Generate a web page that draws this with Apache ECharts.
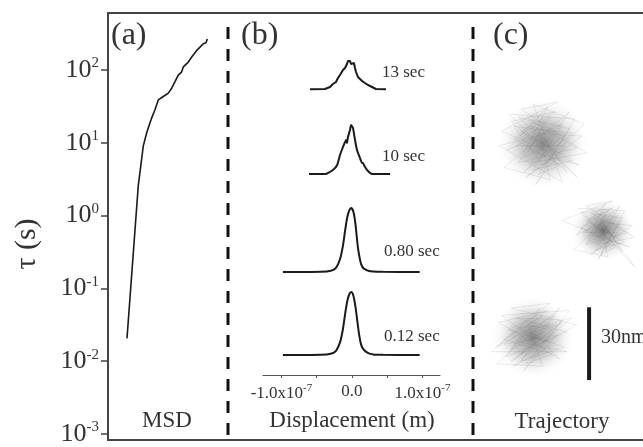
<!DOCTYPE html>
<html><head><meta charset="utf-8">
<script src="https://cdn.jsdelivr.net/npm/echarts@6/dist/echarts.min.js"></script>
<style>html,body{margin:0;padding:0;background:#fff}#c{width:643px;height:447px}</style>
</head><body><div id="c"></div>
<script>
// ---------- data ----------
const tauTicks = [0.001, 0.01, 0.1, 1, 10, 100];
// panel (a) MSD curve: index position, tau (s)
const msdX   = [19, 30.3, 32, 35.3, 38.7, 42, 43.7, 47, 50.3, 55.3, 60.3, 63.7, 67, 70.3, 73.7, 75.3, 80.3, 83.7, 86, 87, 88.7, 92, 95.3, 97, 98, 99.3];
const msdTau = [0.0206, 2.6, 3.95, 9.05, 13.7, 18.8, 21.9, 28.4, 38.8, 43.1, 47.9, 56, 68.8, 84.7, 94, 110, 128, 150, 165, 158, 185, 205, 228, 240, 235, 266];

// panel (b) displacement distributions (x in nm, y in stacked arbitrary units)
const dispTicks = [-1e-7, -0.5e-7, 0, 0.5e-7, 1e-7];
const dispLabels = [-1e-7, 0, 1e-7];
const xFast = [-98, -44, -30, -23, -17, -13, -10, -7, -4, -1, 2, 5, 8, 10, 13, 17, 23, 30, 44, 96];
const p012  = [2.0, 2.03, 2.13, 2.38, 3.26, 4.52, 5.97, 7.29, 8.05, 8.3, 7.92, 6.79, 5.15, 4.08, 3.01, 2.5, 2.19, 2.06, 2.02, 2.0];
const p080  = [10.3, 10.33, 10.43, 10.68, 11.58, 12.86, 14.33, 15.68, 16.44, 16.7, 16.32, 15.04, 12.99, 12.03, 11.07, 10.62, 10.43, 10.35, 10.32, 10.3];
const x10   = [-61, -38, -27, -21, -17, -12.8, -8.5, -7.1, -5.7, -2.8, -1.4, 1.4, 4.3, 7.1, 11.3, 14.2, 15.6, 18.4, 22.7, 28.4, 54];
const p10   = [20.1, 20.1, 20.5, 21.0, 22.0, 22.8, 23.5, 23.2, 23.8, 24.5, 25.0, 24.7, 23.5, 22.5, 21.7, 21.2, 21.2, 20.8, 20.4, 20.1, 20.1];
const x13   = [-59.6, -38.3, -31.2, -27, -22.7, -19.9, -17, -14.2, -12.8, -9.9, -8.5, -7.1, -5.7, -4.3, -2.8, -1.4, 0, 1.4, 2.8, 4.3, 5.7, 8.5, 11.3, 14.2, 18.4, 22.7, 28.4, 34, 48.2];
const p13   = [28.57, 28.6, 28.8, 29.1, 29.3, 29.7, 30.0, 30.2, 30.5, 30.7, 30.9, 31.1, 31.4, 31.6, 31.4, 31.1, 30.9, 31.3, 31.2, 30.7, 30.3, 29.8, 29.6, 29.4, 29.2, 29.0, 28.8, 28.6, 28.57];
const curveNames = ['0.12 sec', '0.80 sec', '10 sec', '13 sec'];

// panel (c) trajectories (nm): cloud centres and step offsets
const cloudCenters = [[28.8, 122.3], [53.5, 86.5], [24.7, 42.4]];
const traj1 = [[0,0],[6,-4],[-5,7],[9,3],[-8,-6],[3,11],[-12,2],[7,-9],[-2,-13],[11,6],[-6,10],[14,-2],[-10,-8],[2,15],[-15,-3],[8,8],[-4,-11],[12,-7],[-9,5],[5,13],[-13,9],[10,-12],[-1,4],[16,3],[-7,-14],[4,-6],[-14,12],[13,10],[-3,-17],[9,-1],[-11,-1],[1,9],[-6,-3],[15,-9],[-17,5],[6,17],[-9,14],[18,-4],[-5,-8],[11,13],[-16,-10],[3,-15],[-2,6],[7,2],[-8,-12],[12,4],[-12,7],[0,-9],[17,8],[-4,16],[8,-16],[-18,-1],[5,5],[-10,11],[14,-14],[-3,2]];
const traj2 = [[0,0],[5,-3],[-4,5],[7,2],[-6,-5],[2,8],[-9,1],[5,-7],[-1,-10],[8,5],[-5,7],[10,-1],[-7,-6],[1,11],[-11,-2],[6,6],[-3,-8],[9,-5],[-7,4],[4,9],[-9,7],[8,-9],[0,3],[12,2],[-5,-10],[3,-4],[-10,9],[9,8],[-2,-12],[6,-1],[-8,-1],[1,6],[-4,-2],[11,-7],[-17,4],[4,12],[-7,10],[13,-3],[-3,-6],[7,10],[-12,-8],[2,-11],[-1,4],[13,-15],[-2,1]];
const traj3 = [[0,0],[7,-2],[-6,4],[10,5],[-9,-5],[4,9],[-12,-1],[8,-7],[-3,-11],[12,7],[-7,8],[14,2],[-11,-8],[3,12],[-15,-4],[9,9],[-5,-10],[13,-4],[-10,3],[6,11],[-14,6],[11,-9],[-1,3],[16,8],[-8,-12],[5,-5],[-13,9],[15,11],[-4,-14],[10,1],[-12,-3],[2,8],[-6,-2],[14,-6],[-17,-6],[7,14],[-9,12],[18,5],[-5,-7],[11,12],[-15,-11],[4,-12],[-2,5],[8,3],[-9,-10],[12,6],[-3,1]];
const scaleBar = {x: 47.8, y0: 24.7, length: 30, label: '30nm'};

// ---------- chart ----------
const FONT = '"Liberation Serif", "DejaVu Serif", serif';
const chart = echarts.init(document.getElementById('c'), null, {renderer: 'canvas'});
const zip = (xs, ys) => xs.map((x, i) => [x * 1e-9, ys[i]]);
const trajData = (c, t) => t.map(d => [c[0] + d[0], c[1] + d[1]]);
const supLabel = (mant, e) => '{b|' + mant + '}{s|' + e + '}';

const curveStyle = {color: '#1a1a1a', width: 2};
const trajStyle = {color: 'rgba(90,90,90,0.2)', width: 0.6};
const blob = (dark) => ({
  type: 'radial', x: 0.5, y: 0.5, r: 0.5,
  colorStops: [{offset: 0, color: dark}, {offset: 0.5, color: 'rgba(125,125,125,0.5)'}, {offset: 0.8, color: 'rgba(170,170,170,0.15)'}, {offset: 1, color: 'rgba(200,200,200,0)'}]
});

const option = {
  animation: false,
  backgroundColor: '#fff',
  textStyle: {fontFamily: FONT},
  grid: [
    {left: 108, top: 13, width: 120, height: 427},
    {left: 263, top: 13, width: 177, height: 362},
    {left: 473, top: 13, width: 170, height: 427}
  ],
  xAxis: [
    {gridIndex: 0, type: 'value', min: 0, max: 120, show: false},
    {gridIndex: 1, type: 'value', min: -1.262e-7, max: 1.248e-7,
      axisLine: {show: true, lineStyle: {color: '#555', width: 1.2}},
      axisTick: {show: true, customValues: dispTicks, length: 3, lineStyle: {color: '#555'}},
      splitLine: {show: false},
      axisLabel: {customValues: dispLabels, margin: 8, color: '#333',
        formatter: v => Math.abs(v) < 1e-12 ? '{b|0.0}' : supLabel(v < 0 ? '-1.0x10' : '1.0x10', '-7'),
        rich: {b: {fontSize: 17, fontFamily: FONT, color: '#333'}, s: {fontSize: 11, fontFamily: FONT, color: '#333', padding: [0, 0, 10, 0]}}}
    },
    {gridIndex: 2, type: 'value', min: 0, max: 70, show: false}
  ],
  yAxis: [
    {gridIndex: 0, type: 'log', logBase: 10, min: 0.001, max: 604,
      axisLine: {show: true, lineStyle: {color: '#444', width: 2}},
      axisTick: {show: true, customValues: tauTicks, length: 7, lineStyle: {color: '#444', width: 1.5}},
      splitLine: {show: false}, minorTick: {show: false},
      axisLabel: {customValues: tauTicks, margin: 9, color: '#333',
        formatter: v => supLabel('10', Math.round(Math.log10(v))),
        rich: {b: {fontSize: 26, fontFamily: FONT, color: '#333'}, s: {fontSize: 15, fontFamily: FONT, color: '#333', padding: [0, 0, 13, 0]}}}
    },
    {gridIndex: 1, type: 'value', min: 0, max: 36.2, show: false},
    {gridIndex: 2, type: 'value', min: 0, max: 176, show: false}
  ],
  series: [
    {type: 'line', xAxisIndex: 0, yAxisIndex: 0, data: msdX.map((x, i) => [x, msdTau[i]]), symbol: 'none', lineStyle: {color: '#1a1a1a', width: 1.6}},
    {type: 'line', name: curveNames[0], xAxisIndex: 1, yAxisIndex: 1, data: zip(xFast, p012), symbol: 'none', smooth: 0.25, lineStyle: curveStyle},
    {type: 'line', name: curveNames[1], xAxisIndex: 1, yAxisIndex: 1, data: zip(xFast, p080), symbol: 'none', smooth: 0.25, lineStyle: curveStyle},
    {type: 'line', name: curveNames[2], xAxisIndex: 1, yAxisIndex: 1, data: zip(x10, p10), symbol: 'none', smooth: 0.15, lineStyle: curveStyle},
    {type: 'line', name: curveNames[3], xAxisIndex: 1, yAxisIndex: 1, data: zip(x13, p13), symbol: 'none', lineStyle: curveStyle},
    {type: 'scatter', xAxisIndex: 2, yAxisIndex: 2, data: [cloudCenters[0]], symbolSize: 88, itemStyle: {color: blob('rgba(95,95,95,0.9)')}, silent: true},
    {type: 'scatter', xAxisIndex: 2, yAxisIndex: 2, data: [cloudCenters[1]], symbolSize: 62, itemStyle: {color: blob('rgba(70,70,70,0.95)')}, silent: true},
    {type: 'scatter', xAxisIndex: 2, yAxisIndex: 2, data: [cloudCenters[2]], symbolSize: 80, itemStyle: {color: blob('rgba(90,90,90,0.9)')}, silent: true},
    {type: 'line', xAxisIndex: 2, yAxisIndex: 2, data: trajData(cloudCenters[0], traj1), symbol: 'none', lineStyle: trajStyle},
    {type: 'line', xAxisIndex: 2, yAxisIndex: 2, data: trajData(cloudCenters[1], traj2), symbol: 'none', lineStyle: trajStyle},
    {type: 'line', xAxisIndex: 2, yAxisIndex: 2, data: trajData(cloudCenters[2], traj3), symbol: 'none', lineStyle: trajStyle},
    {type: 'line', xAxisIndex: 2, yAxisIndex: 2, data: [[scaleBar.x, scaleBar.y0], [scaleBar.x, scaleBar.y0 + scaleBar.length]], symbol: 'none', lineStyle: {color: '#1a1a1a', width: 4}}
  ],
  graphic: [
    {type: 'rect', shape: {x: 108, y: 13, width: 600, height: 427}, style: {fill: 'none', stroke: '#444', lineWidth: 2}, silent: true},
    {type: 'line', shape: {x1: 228, y1: 27, x2: 228, y2: 440}, style: {stroke: '#111', lineWidth: 3, lineDash: [12, 10]}},
    {type: 'line', shape: {x1: 473, y1: 27, x2: 473, y2: 440}, style: {stroke: '#111', lineWidth: 3, lineDash: [12, 10]}},
    {type: 'text', x: 111, y: 36, style: {text: '(a)', font: '32px ' + FONT, fill: '#333', verticalAlign: 'middle'}},
    {type: 'text', x: 241, y: 36, style: {text: '(b)', font: '32px ' + FONT, fill: '#333', verticalAlign: 'middle'}},
    {type: 'text', x: 493, y: 36, style: {text: '(c)', font: '32px ' + FONT, fill: '#333', verticalAlign: 'middle'}},
    {type: 'text', x: 167, y: 421, style: {text: 'MSD', font: '23px ' + FONT, fill: '#333', align: 'center', verticalAlign: 'middle'}},
    {type: 'text', x: 352, y: 421, style: {text: 'Displacement (m)', font: '23px ' + FONT, fill: '#333', align: 'center', verticalAlign: 'middle'}},
    {type: 'text', x: 562, y: 422, style: {text: 'Trajectory', font: '23px ' + FONT, fill: '#333', align: 'center', verticalAlign: 'middle'}},
    {type: 'text', x: 27, y: 244, rotation: Math.PI / 2, style: {text: 'τ (s)', font: '30px ' + FONT, fill: '#333', align: 'center', verticalAlign: 'middle'}},
    {type: 'text', x: 382, y: 73, style: {text: curveNames[3], font: '17px ' + FONT, fill: '#333', verticalAlign: 'middle'}},
    {type: 'text', x: 382, y: 157, style: {text: curveNames[2], font: '17px ' + FONT, fill: '#333', verticalAlign: 'middle'}},
    {type: 'text', x: 384, y: 252, style: {text: curveNames[1], font: '17px ' + FONT, fill: '#333', verticalAlign: 'middle'}},
    {type: 'text', x: 384, y: 337, style: {text: curveNames[0], font: '17px ' + FONT, fill: '#333', verticalAlign: 'middle'}},
    {type: 'text', x: 601, y: 338, style: {text: scaleBar.label, font: '20px ' + FONT, fill: '#333', verticalAlign: 'middle'}}
  ]
};
chart.setOption(option);
</script></body></html>
